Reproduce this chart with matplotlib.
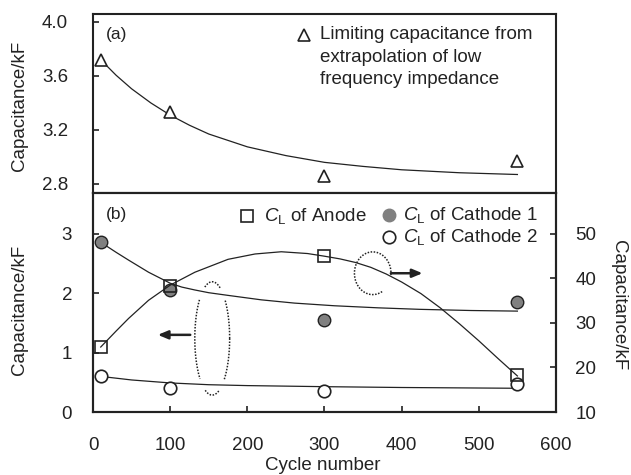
import numpy as np
import matplotlib
matplotlib.use("Agg")
import matplotlib.pyplot as plt

plt.rcParams['font.family'] = ['Liberation Sans', 'DejaVu Sans']
plt.rcParams['mathtext.fontset'] = 'custom'
plt.rcParams['mathtext.rm'] = 'Liberation Sans'
plt.rcParams['mathtext.it'] = 'Liberation Sans:italic'

# measured points
cycles = [10, 100, 300, 550]
limit_cap = [3.72, 3.335, 2.86, 2.97]          # (a) kF
anode_cl = [24.7, 38.4, 45.0, 18.4]            # (b) right axis, kF
cathode1_cl = [2.87, 2.05, 1.55, 1.85]         # (b) left axis, kF
cathode2_cl = [0.61, 0.40, 0.355, 0.465]       # (b) left axis, kF

# trend lines
trend_a_x = [10, 30, 50, 75, 100, 125, 150, 200, 250, 300, 350, 400, 475, 550]
trend_a_y = [3.72, 3.605, 3.505, 3.40, 3.31, 3.235, 3.17, 3.075, 3.01, 2.96, 2.93, 2.905, 2.883, 2.87]

trend_an_x = [10, 30, 46, 72, 100, 132, 175, 210, 244, 278, 300, 320, 340, 360, 380,
              400, 425, 450, 475, 500, 525, 550]
trend_an_y = [24.6, 28.2, 31.0, 35.1, 38.5, 41.4, 44.3, 45.5, 46.0, 45.6, 45.0, 44.4,
              43.6, 42.5, 41.0, 39.2, 36.6, 33.4, 29.8, 26.0, 22.0, 18.1]

trend_c1_x = [10, 30, 46, 72, 100, 115, 132, 150, 175, 218, 261, 313, 370, 423, 490, 550]
trend_c1_y = [2.86, 2.69, 2.56, 2.355, 2.17, 2.105, 2.056, 2.01, 1.965, 1.89, 1.835,
              1.79, 1.755, 1.73, 1.71, 1.70]

trend_c2_x = [10, 50, 100, 150, 200, 300, 400, 550]
trend_c2_y = [0.60, 0.54, 0.49, 0.46, 0.445, 0.427, 0.413, 0.40]

ink = '#222222'
fs = 13.5

fig = plt.figure(figsize=(6.31, 4.75), dpi=100)
ax1 = fig.add_axes([0.1474, 0.5937, 0.7337, 0.3768])
ax2 = fig.add_axes([0.1474, 0.1326, 0.7337, 0.4611])
ax3 = ax2.twinx()

for a in (ax1, ax2, ax3):
    for s in a.spines.values():
        s.set_linewidth(1.5)
        s.set_color(ink)

# ---- panel (a)
ax1.plot(trend_a_x, trend_a_y, color=ink, lw=0.9)
ax1.plot(cycles, limit_cap, ls='none', marker='^', ms=9, mfc='white', mec=ink, mew=1.2)
ax1.set_xlim(0, 600)
ax1.set_ylim(2.733, 4.059)
ax1.set_yticks([2.8, 3.2, 3.6, 4.0])
ax1.set_yticklabels(['2.8', '3.2', '3.6', '4.0'])
ax1.set_xticks([])
ax1.tick_params(axis='y', direction='in', length=4, width=1.2, pad=18,
                labelsize=fs, colors=ink)
ax1.set_ylabel('Capacitance/kF', fontsize=fs, color=ink)
ax1.yaxis.set_label_coords(-0.14, 0.486)
ax1.text(0.028, 0.883, '(a)', transform=ax1.transAxes, fontsize=12.5, color=ink, va='center')
ax1.plot([0.456], [0.883], transform=ax1.transAxes, marker='^', ms=9, mfc='white',
         mec=ink, mew=1.2, clip_on=False)
for i, line in enumerate(['Limiting capacitance from', 'extrapolation of low',
                          'frequency impedance']):
    ax1.text(0.49, 0.883 - i * 0.125, line, transform=ax1.transAxes, fontsize=fs,
             color=ink, va='center')

# ---- panel (b), left axis: cathodes
ax2.plot(trend_c1_x, trend_c1_y, color=ink, lw=0.9, zorder=2)
ax2.plot(trend_c2_x, trend_c2_y, color=ink, lw=0.9, zorder=2)
ax2.plot(cycles, cathode1_cl, ls='none', marker='o', ms=9, mfc='#808080', mec=ink,
         mew=1.0, zorder=3)
ax2.plot(cycles, cathode2_cl, ls='none', marker='o', ms=9, mfc='white', mec=ink,
         mew=1.2, zorder=3)
ax2.set_xlim(0, 600)
ax2.set_ylim(0, 3.69)
ax2.set_yticks([0, 1, 2, 3])
ax2.set_xticks([0, 100, 200, 300, 400, 500, 600])
ax2.tick_params(axis='y', direction='in', length=4, width=1.2, pad=15,
                labelsize=fs, colors=ink)
ax2.tick_params(axis='x', direction='in', length=4, width=1.2, pad=18,
                labelsize=fs, colors=ink)
ax2.set_ylabel('Capacitance/kF', fontsize=fs, color=ink)
ax2.yaxis.set_label_coords(-0.14, 0.466)
ax2.set_xlabel('Cycle number', fontsize=fs, color=ink)
ax2.xaxis.set_label_coords(0.497, -0.205)
ax2.text(0.028, 0.9, '(b)', transform=ax2.transAxes, fontsize=12.5, color=ink, va='center')

# dotted ellipse pointing to left axis, broken where the curves pass
t = np.linspace(0, 2 * np.pi, 400)
ex = 154.5 + 22.6 * np.cos(t)
ey = 1.24 + 0.955 * np.sin(t)
ey = np.where(((ey > 1.89) & (ey < 2.09)) | ((ey > 0.37) & (ey < 0.55)), np.nan, ey)
ax2.plot(ex, ey, ls=(0, (1, 1)), color=ink, lw=1.1, zorder=1)
ax2.annotate('', xy=(84, 1.30), xytext=(126, 1.30),
             arrowprops=dict(arrowstyle='-|>,head_length=0.6,head_width=0.25',
                             color=ink, lw=1.8, shrinkA=0, shrinkB=0))

# dotted ellipse pointing to right axis
tt = np.radians(np.linspace(-5, 305, 300))
ax2.plot(362.5 + 23.7 * np.cos(tt), 2.338 + 0.36 * np.sin(tt), ls=(0, (1, 1)),
         color=ink, lw=1.1, zorder=1)
ax2.annotate('', xy=(427, 2.338), xytext=(386, 2.338),
             arrowprops=dict(arrowstyle='-|>,head_length=0.6,head_width=0.25',
                             color=ink, lw=1.8, shrinkA=0, shrinkB=0))

# ---- panel (b), right axis: anode
ax3.plot(trend_an_x, trend_an_y, color=ink, lw=0.9, zorder=2)
ax3.plot(cycles, anode_cl, ls='none', marker='s', ms=9, mfc='none', mec=ink,
         mew=1.2, zorder=3)
ax3.set_ylim(10, 10 + 3.69 * 40 / 3)
ax3.set_yticks([10, 20, 30, 40, 50])
ax3.tick_params(axis='y', direction='in', length=4, width=1.2, pad=14,
                labelsize=fs, colors=ink)
ax3.set_ylabel('Capacitance/kF', fontsize=fs, color=ink, rotation=-90)
ax3.yaxis.set_label_coords(1.153, 0.489)

# legend of panel (b)
ax2.plot([0.333], [0.895], transform=ax2.transAxes, marker='s', ms=9, mfc='none',
         mec=ink, mew=1.2, clip_on=False)
ax2.text(0.369, 0.895, r'$C_\mathrm{L}$ of Anode', transform=ax2.transAxes,
         fontsize=fs, color=ink, va='center')
ax2.plot([0.639], [0.9], transform=ax2.transAxes, marker='o', ms=9, mfc='#808080',
         mec='#808080', mew=1.0, clip_on=False)
ax2.text(0.6695, 0.9, r'$C_\mathrm{L}$ of Cathode 1', transform=ax2.transAxes,
         fontsize=fs, color=ink, va='center')
ax2.plot([0.639], [0.798], transform=ax2.transAxes, marker='o', ms=9, mfc='white',
         mec=ink, mew=1.2, clip_on=False)
ax2.text(0.6695, 0.798, r'$C_\mathrm{L}$ of Cathode 2', transform=ax2.transAxes,
         fontsize=fs, color=ink, va='center')

fig.savefig('out.png', dpi=100)
